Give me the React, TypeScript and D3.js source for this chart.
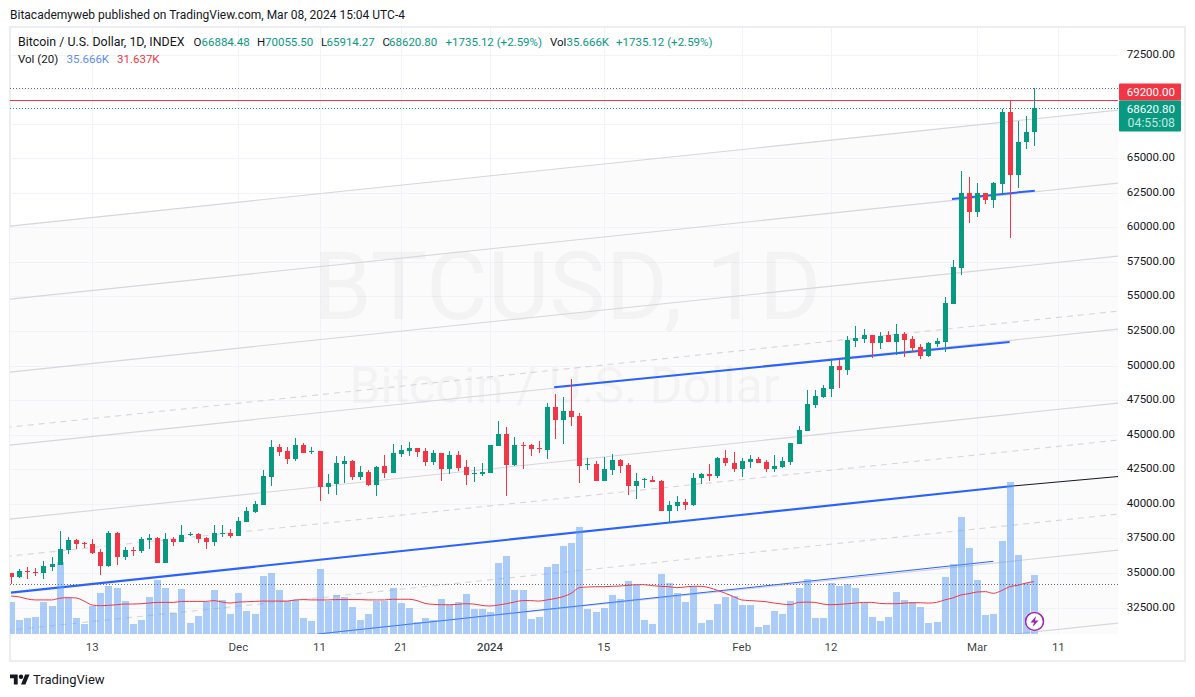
import * as d3 from "d3";

const opens = [
  34970, 34710, 35140, 35090, 35000, 35430, 35600, 36660, 37380, 37170,
  37090, 36510, 35500, 37890, 36150, 36660, 36590, 37380, 37530, 35720,
  37450, 37240, 37770, 37820, 37530, 37240, 37840, 37890, 37670, 38690,
  39410, 39910, 41940, 44110, 43820, 43240, 44250, 43750, 43820, 41220,
  41430, 42880, 43100, 41940, 42300, 41360, 42730, 42230, 43600, 43820,
  44040, 43820, 43030, 43680, 42520, 43530, 42660, 42180, 42130, 42230,
  44180, 45050, 42810, 44230, 44250, 44040, 43890, 47000, 46060, 46710,
  46350, 42810, 42880, 41650, 42450, 43170, 42810, 41290, 41720, 41720,
  41650, 39480, 39840, 40130, 39920, 41870, 42160, 42010, 43310, 42950,
  42520, 43030, 43240, 43030, 42520, 42660, 43030, 44330, 45270, 47150,
  47730, 48310, 49970, 49680, 51780, 51920, 52210, 51630, 52210, 51700,
  52280, 51920, 51340, 50690, 51560, 51700, 54450, 57060, 62480, 61110,
  62480, 61980, 63130, 68340, 63780, 66170, 66884.48,
];
const highs = [
  35000, 35290, 35450, 35380, 35890, 36150, 38030, 37600, 37460, 37240,
  37460, 36730, 38030, 37960, 36880, 36880, 37600, 37820, 37600, 37890,
  37600, 38470, 37960, 37890, 37600, 38470, 38470, 38180, 39050, 39770,
  40200, 42450, 44620, 44330, 44110, 44760, 44400, 44110, 43830, 42160,
  43460, 43460, 43170, 42740, 42450, 42740, 43530, 44330, 44250, 44470,
  44050, 44050, 43890, 43690, 43820, 43820, 43170, 42660, 42950, 44260,
  45990, 45560, 44830, 44470, 44330, 44540, 47290, 47940, 47730, 49030,
  46570, 43310, 43100, 43390, 43600, 43240, 42950, 42230, 41870, 42010,
  41720, 40200, 40570, 40350, 42230, 42230, 42880, 43390, 43890, 43750,
  43310, 43530, 43390, 43170, 43530, 43390, 44410, 45630, 48230, 48230,
  48590, 50400, 50400, 52140, 52860, 52650, 52220, 52430, 52500, 53010,
  52430, 52140, 51560, 51700, 51990, 54960, 57640, 64070, 63640, 63210,
  62490, 63280, 68560, 69200, 67690, 68050, 70055.5,
];
const lows = [
  34200, 34610, 34560, 34780, 34560, 35140, 35600, 36390, 36730, 36800,
  36390, 34850, 35430, 35580, 35940, 36230, 36440, 36730, 35700, 35700,
  36950, 37220, 37670, 37170, 36730, 36950, 37600, 37530, 37650, 38670,
  39340, 39900, 41290, 43460, 42880, 43100, 43660, 43600, 40200, 40710,
  40640, 41510, 41720, 41720, 41290, 40570, 41870, 42220, 43390, 43460,
  43390, 42740, 42810, 41650, 42160, 42370, 41360, 41580, 42010, 42220,
  44170, 40570, 42740, 42520, 43460, 43680, 43240, 44690, 44330, 45630,
  41510, 42450, 41640, 41640, 42080, 42230, 40640, 40350, 41140, 41570,
  39470, 38610, 39480, 39550, 39840, 41430, 41650, 41870, 42740, 42300,
  41940, 42590, 42940, 42300, 42300, 42590, 42810, 44320, 45260, 46930,
  47650, 47730, 48380, 49320, 51340, 51630, 50550, 51200, 51690, 50760,
  50620, 50980, 50480, 50620, 51340, 50980, 54440, 56550, 60310, 60750,
  61690, 61400, 62410, 59230, 62840, 65660, 65914.27,
];
const closes = [
  34710, 35140, 35070, 35020, 35500, 35650, 36730, 37380, 37090, 37090,
  36440, 35500, 37890, 36150, 36660, 36590, 37450, 37530, 35720, 37450,
  37240, 37740, 37820, 37450, 37240, 37890, 37890, 37670, 38760, 39480,
  39990, 42010, 44110, 43750, 43240, 44250, 43680, 43820, 41220, 41510,
  42950, 43100, 41940, 42300, 41360, 42660, 42230, 43680, 43890, 44040,
  43750, 43030, 43680, 42520, 43530, 42590, 42080, 42230, 42300, 44250,
  45050, 42810, 44250, 44160, 43970, 43970, 47000, 46060, 46710, 46280,
  42730, 42880, 41650, 42520, 43170, 42730, 41290, 41650, 41800, 41580,
  39480, 39910, 40130, 39920, 41870, 42160, 42010, 43310, 42950, 42520,
  43100, 43240, 42950, 42520, 42730, 43100, 44400, 45340, 47220, 47800,
  48380, 49970, 49680, 51850, 51990, 52210, 51630, 52140, 51700, 52280,
  51850, 51270, 50690, 51630, 51780, 54530, 57130, 62480, 61110, 62480,
  61980, 63210, 68340, 63780, 66170, 66880, 68620.8,
];
// volume in thousands
const volumes = [
  19.3, 8.5, 9.7, 10.3, 19.3, 16.9, 43.5, 21.8, 9.7, 6.0,
  16.9, 24.8, 29.0, 27.8, 19.9, 6.0, 8.5, 22.4, 32.6, 27.8,
  12.7, 27.2, 6.6, 10.9, 19.3, 26.6, 20.6, 12.1, 24.8, 13.9,
  12.1, 35.1, 36.9, 26.6, 19.9, 20.6, 9.7, 7.9, 39.3, 19.9,
  23.6, 22.4, 16.3, 8.5, 12.1, 19.9, 19.9, 27.8, 18.7, 15.7,
  7.3, 9.7, 8.5, 21.2, 17.5, 19.3, 24.2, 15.1, 15.1, 13.3,
  42.9, 47.2, 26.6, 26.6, 9.1, 10.3, 40.5, 42.3, 53.2, 55.0,
  64.7, 15.1, 13.3, 15.7, 23.6, 21.2, 32.0, 29.6, 8.5, 6.0,
  36.3, 30.8, 24.8, 19.3, 28.4, 6.6, 8.5, 18.1, 22.4, 23.0,
  17.5, 17.5, 4.2, 5.4, 13.9, 12.1, 19.9, 27.8, 33.2, 9.7,
  9.7, 30.8, 29.0, 30.2, 27.8, 18.7, 10.3, 7.9, 10.3, 25.4,
  20.6, 19.3, 16.3, 6.6, 7.3, 34.5, 42.3, 70.7, 52.0, 32.6,
  11.5, 12.1, 56.2, 91.9, 47.8, 31.0, 35.666,
];
const volumeMa = [
  23.0, 22.4, 21.2, 20.6, 20.6, 20.6, 21.6, 22.0, 21.8, 19.9,
  17.5, 17.1, 17.3, 17.7, 18.1, 18.1, 18.3, 18.7, 19.1, 19.1,
  19.1, 19.7, 19.7, 19.7, 19.7, 20.2, 19.3, 18.7, 19.3, 19.5,
  19.7, 19.9, 19.9, 19.9, 19.9, 20.6, 20.8, 20.6, 20.6, 20.6,
  20.8, 20.8, 20.8, 20.8, 20.6, 20.6, 20.6, 21.0, 21.0, 21.0,
  20.2, 18.5, 17.9, 17.7, 17.7, 17.9, 18.3, 18.1, 17.3, 16.9,
  17.5, 18.3, 19.3, 20.2, 20.2, 19.9, 20.6, 21.4, 22.6, 24.6,
  28.0, 28.4, 28.6, 28.6, 28.8, 29.0, 29.4, 29.8, 29.8, 29.2,
  28.8, 28.6, 28.0, 28.4, 28.8, 28.8, 28.0, 26.4, 24.6, 22.6,
  20.6, 20.2, 19.9, 19.5, 18.7, 18.1, 17.7, 19.1, 19.3, 19.1,
  18.1, 17.7, 17.9, 18.3, 18.7, 19.1, 19.1, 18.5, 18.3, 18.3,
  18.7, 18.9, 18.9, 18.7, 19.1, 20.6, 21.8, 23.6, 24.4, 25.4,
  25.6, 24.6, 26.2, 28.6, 29.4, 30.8, 31.637,
];

const priceTicks = [72500, 65000, 62500, 60000, 57500, 55000, 52500, 50000, 47500, 45000, 42500, 40000, 37500, 35000, 32500];
const gridPrices = [70000, 67500];
const dayTicks = [10, 28, 38, 48, 59, 73, 90, 101, 119, 129];
const dayLabels = ["13", "Dec", "11", "21", "2024", "15", "Feb", "12", "Mar", "11"];

// channel levels: price at the first bar, all rise the same amount per day
const channelRisePerDay = 61.47;
const channelEnd = 138;
const channelSolid = [60095, 54815, 49534, 44254, 38901, 28269, 22988];
const channelDashed = [45556, 36225, 30873];
const channelBase = 33578;

// [day, price, day, price]
const blueThick = [0, 33578, 123.4, 41288];
const blueMid = [66.9, 48428, 123, 51704];
const blueShort = [115.9, 62048, 126.1, 62648];
const blueThin = [37.8, 30583, 121, 35842];

const priceHigh = 70055.5;
const priceAlert = 69200;
const priceLast = 68620.8;
const volumeLevel = 34180;

const GREEN = "#089981";
const RED = "#f23645";
const BLUE = "#2962ff";
const TEXT = "#131722";
const FONT = "Roboto, 'Liberation Sans', sans-serif";

const left = 10;
const right = 1118;
const top = 28;
const bottom = 634;

const x = d3.scaleLinear().domain([0, 126]).range([11, 1034]);
const y = d3.scaleLinear().domain([32500, 72500]).range([607.5, 54.5]);
const yVol = d3.scaleLinear().domain([0, 35.666]).range([bottom, 575]);

// snap to the pixel grid like the canvas chart does
const snap = (v: number) => Math.round(v) + 0.5;

const maLine = d3
  .line<number>()
  .x((_, i) => x(i))
  .y((d) => yVol(d))
  .curve(d3.curveMonotoneX);

const area = d3
  .area<number>()
  .x((d) => x(d))
  .y0(bottom + 200)
  .y1((d) => y(channelSolid[0] + channelRisePerDay * d));

const ChannelLine = ({ p, dash }: { p: number; dash?: string }) => (
  <line
    x1={x(-2)}
    y1={y(p - channelRisePerDay * 2)}
    x2={x(channelEnd)}
    y2={y(p + channelRisePerDay * channelEnd)}
    stroke="#d6d6dc"
    strokeWidth={1.1}
    strokeDasharray={dash}
  />
);

const Trend = ({ d, width, color = BLUE }: { d: number[]; width: number; color?: string }) => (
  <line x1={x(d[0])} y1={y(d[1])} x2={x(d[2])} y2={y(d[3])} stroke={color} strokeWidth={width} />
);

const HLine = ({ p, color, dash }: { p: number; color: string; dash?: string }) => (
  <line x1={left} x2={right} y1={snap(y(p))} y2={snap(y(p))} stroke={color} strokeDasharray={dash} />
);

const App = () => {
  const bw = 5;
  return (
    <svg width={1195} height={697} style={{ position: "absolute", left: 0, top: 0 }} fontFamily={FONT}>
      <defs>
        <clipPath id="plot">
          <rect x={left} y={top} width={right - left} height={bottom - top} />
        </clipPath>
      </defs>

      <text x={10} y={19} fontSize={12} fill={TEXT}>
        Bitacademyweb published on TradingView.com, Mar 08, 2024 15:04 UTC-4
      </text>

      <rect x={10} y={27} width={1175} height={634} fill="#fff" stroke="#eceef3" strokeWidth={2} />

      <g clipPath="url(#plot)">
        <path d={area([-2, channelEnd]) as string} fill="#fbfbfc" />
        {priceTicks.concat(gridPrices).map((p) => (
          <line key={p} x1={left} x2={right} y1={snap(y(p))} y2={snap(y(p))} stroke="#f0f3fa" />
        ))}
        {dayTicks.map((d) => (
          <line key={d} x1={snap(x(d))} x2={snap(x(d))} y1={top} y2={bottom} stroke="#f0f3fa" />
        ))}

        <text x={567} y={319} textAnchor="middle" fontSize={95} fill="#131722" fillOpacity={0.035}>
          BTCUSD, 1D
        </text>
        <text x={564.5} y={403} textAnchor="middle" fontSize={50} fill="#131722" fillOpacity={0.035}>
          Bitcoin / U.S. Dollar
        </text>

        {channelSolid.map((p) => (
          <ChannelLine key={p} p={p} />
        ))}
        {channelDashed.map((p) => (
          <ChannelLine key={p} p={p} dash="6 5" />
        ))}
        <line
          x1={x(blueThick[2])}
          y1={y(blueThick[3])}
          x2={x(channelEnd)}
          y2={y(channelBase + channelRisePerDay * channelEnd)}
          stroke="#131722"
          strokeWidth={1}
        />
        <Trend d={blueThick} width={2.2} />
        <Trend d={blueMid} width={2} />
        <Trend d={blueShort} width={2} />
        <Trend d={blueThin} width={1} />

        {volumes.map((v, i) => (
          <rect
            key={i}
            x={Math.round(x(i)) - 3}
            y={Math.round(yVol(v))}
            width={7}
            height={bottom - Math.round(yVol(v))}
            fill="#5b9cf6"
            fillOpacity={0.5}
          />
        ))}
        <path d={maLine(volumeMa) as string} fill="none" stroke={RED} strokeWidth={1} />

        <HLine p={volumeLevel} color="#6a6d78" dash="1 2" />
        <HLine p={priceHigh} color="#6a6d78" dash="1 2" />
        <HLine p={priceAlert} color={RED} />
        <HLine p={priceLast} color={GREEN} dash="1 2" />

        {opens.map((o, i) => {
          const c = closes[i];
          const color = c >= o ? GREEN : RED;
          const cx = Math.round(x(i));
          const bodyTop = Math.round(y(Math.max(o, c)));
          const bodyH = Math.max(1, Math.round(y(Math.min(o, c))) - bodyTop);
          const wickTop = Math.round(y(highs[i]));
          return (
            <g key={i} fill={color}>
              <rect x={cx} y={wickTop} width={1} height={Math.round(y(lows[i])) - wickTop} />
              <rect x={cx - 2} y={bodyTop} width={bw} height={bodyH} />
            </g>
          );
        })}
      </g>

      {/* legend */}
      <g fontSize={11.5} fill={TEXT}>
        <text x={18} y={46} fontSize={12.4}>Bitcoin / U.S. Dollar, 1D, INDEX</text>
        <text x={193.5} y={46}>O</text>
        <text x={201.5} y={46} fill={GREEN}>66884.48</text>
        <text x={257} y={46}>H</text>
        <text x={265} y={46} fill={GREEN}>70055.50</text>
        <text x={321} y={46}>L</text>
        <text x={326.5} y={46} fill={GREEN}>65914.27</text>
        <text x={382.5} y={46}>C</text>
        <text x={389} y={46} fill={GREEN}>68620.80</text>
        <text x={445.5} y={46} fill={GREEN}>+1735.12 (+2.59%)</text>
        <text x={550} y={46}>Vol</text>
        <text x={566.5} y={46} fill={GREEN}>35.666K</text>
        <text x={616} y={46} fill={GREEN}>+1735.12 (+2.59%)</text>
        <text x={18} y={63}>Vol (20)</text>
        <text x={66.5} y={63} fill="#5b8cf6">35.666K</text>
        <text x={117} y={63} fill={RED}>31.637K</text>
      </g>

      {/* price axis */}
      <g fontSize={11.5} fill={TEXT} textAnchor="end">
        {priceTicks.map((p) => (
          <text key={p} x={1175} y={y(p) + 3}>
            {d3.format(".2f")(p)}
          </text>
        ))}
      </g>
      <rect x={1119} y={83.5} width={62} height={17} fill={RED} rx={1} />
      <rect x={1119} y={100.5} width={62} height={31} fill={GREEN} rx={1} />
      <g fontSize={11.5} textAnchor="end">
        <text x={1175} y={96} fill="#fff">{d3.format(".2f")(priceAlert)}</text>
        <text x={1175} y={113} fill="#fff">{d3.format(".2f")(priceLast)}</text>
        <text x={1175} y={127} fill="#c5e6df" fontSize={12.3}>04:55:08</text>
      </g>

      {/* time axis */}
      <g fontSize={11.5} fill={TEXT} fillOpacity={0.85} textAnchor="middle">
        {dayTicks.map((d, i) => (
          <text key={d} x={x(d)} y={651} fontWeight={dayLabels[i] === "2024" ? 500 : 400}>
            {dayLabels[i]}
          </text>
        ))}
      </g>

      {/* news marker on the last bar */}
      <g transform={`translate(${x(126) + 0.5},${yVol(7.6)})`}>
        <circle r={10} fill="#fff" />
        <circle r={9} fill="#fff" stroke="#9c27b0" strokeWidth={1.6} />
        <path d="M1.5 -5.5 L-4 1 H-0.5 L-1.8 5.5 L4 -1 H0.5 Z" fill="#9c27b0" />
      </g>

      {/* TradingView mark */}
      <g transform="translate(10,672.3) scale(0.55)" fill="#131722">
        <path d="M14 22H7V11H0V4h14v18zM28 22h-8l7.5-18h8L28 22z" />
        <circle cx={20} cy={8} r={4} />
      </g>
      <text x={33} y={684} fontSize={13} fill="#131722">TradingView</text>
    </svg>
  );
};

export default App;
